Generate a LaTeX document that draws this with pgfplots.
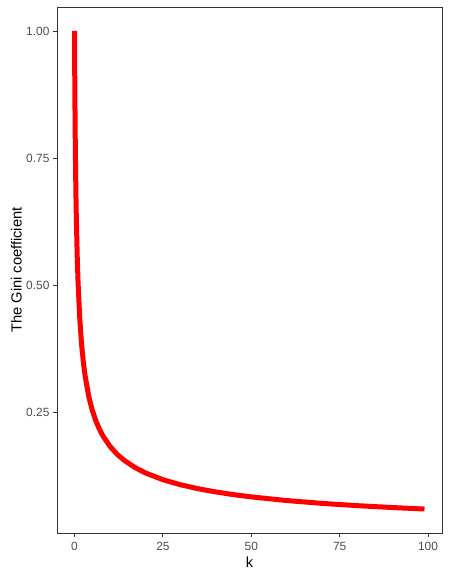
\documentclass[border=0pt]{standalone}
\usepackage{fontspec}
\setmainfont{Liberation Sans}
\usepackage{pgfplots}
\pgfplotsset{compat=1.18}
\definecolor{grey20}{HTML}{333333}
\definecolor{grey30}{HTML}{4D4D4D}
\begin{document}
\begin{tikzpicture}
\begin{axis}[
  scale only axis, width=385bp, height=526bp,
  xmin=-4.95, xmax=103.95, ymin=0.0117, ymax=1.0471,
  axis line style={grey20, line width=0.8bp},
  xtick={0,25,50,75,100}, ytick={0.25,0.5,0.75,1},
  yticklabels={0.25,0.50,0.75,1.00},
  tick style={grey20, line width=0.8bp},
  tick align=outside, major tick length=4bp,
  xtick pos=bottom, ytick pos=left,
  ticklabel style={font=\fontsize{11.9bp}{13bp}\selectfont, text=grey30},
  xticklabel style={inner sep=5bp},
  yticklabel style={inner sep=3.4bp},
  /pgf/number format/assume math mode=true,
  xlabel={k}, ylabel={The Gini coefficient},
  label style={font=\fontsize{14.67bp}{16bp}\selectfont, text=black},
  xlabel style={at={(axis description cs:0.5,-0.0665)}, anchor=base},
  ylabel style={at={(axis description cs:-0.0922,0.5)}, anchor=base},
]
\addplot[color=red, line width=5bp, line cap=butt, line join=round, no markers] coordinates {
(0,1.000) (0.02,0.9722) (0.05,0.9345) (0.1,0.8805) (0.2,0.7956) (0.3,0.7313)
(0.4,0.6804) (0.5,0.6389) (0.75,0.5612) (1,0.5064) (1.5,0.4323) (2,0.3835)
(2.5,0.3482) (3,0.3211) (4,0.2817) (5,0.2540) (6,0.2331) (7,0.2167) (8,0.2033)
(10,0.1826) (12,0.1671) (14,0.1550) (17,0.1410) (20,0.1302) (25,0.1166)
(30,0.1066) (35,0.0988) (40,0.0925) (45,0.0872) (50,0.0828) (60,0.0756)
(70,0.0700) (80,0.0655) (90,0.0618) (99,0.0589)
};
\end{axis}
\path ([shift={(-57bp,-46bp)}]current axis.south west) rectangle ([shift={(8bp,7bp)}]current axis.north east);
\end{tikzpicture}
\end{document}
